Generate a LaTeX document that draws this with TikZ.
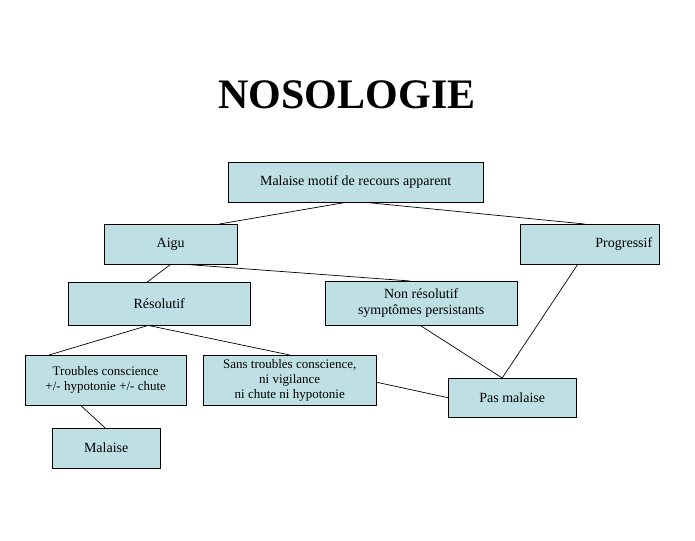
\documentclass[tikz,border=0pt]{standalone}
\usepackage{fontspec}
\setmainfont{Liberation Serif}
\begin{document}
\begin{tikzpicture}[x=1pt,y=-1pt,
  bx/.style={draw=black,fill=boxblue,inner sep=0pt,font=\fontsize{14}{16}\selectfont,align=center,anchor=north west},
  ln/.style={draw=black,line width=0.7pt}]
\definecolor{boxblue}{RGB}{190,224,228}
\useasboundingbox (0,0) rectangle (695,540);
\node[font=\bfseries\fontsize{42}{46}\selectfont] (title) at (347,95) {NOSOLOGIE};
\node[bx,minimum width=255,minimum height=40] (m) at (228,162) {Malaise motif de recours apparent};
\node[bx,minimum width=133,minimum height=40] (a) at (104,224) {Aigu};
\node[bx,minimum width=139,minimum height=40,align=right,text width=125] (p) at (520,224) {Progressif};
\node[bx,minimum width=182,minimum height=43] (r) at (68,282) {Résolutif};
\node[bx,minimum width=192,minimum height=44] (n) at (325,281) {Non résolutif\\symptômes persistants};
\node[bx,minimum width=161,minimum height=50,font=\fontsize{13}{15}\selectfont] (t) at (25,355) {Troubles conscience\\+/- hypotonie +/- chute};
\node[bx,minimum width=173,minimum height=50,font=\fontsize{13}{15}\selectfont] (s) at (203,355) {Sans troubles conscience,\\ni vigilance\\ni chute ni hypotonie};
\node[bx,minimum width=128,minimum height=39] (pm) at (448,378) {Pas malaise};
\node[bx,minimum width=108,minimum height=40] (ml) at (52,428) {Malaise};
\draw[ln] ([xshift=-10]m.south) -- ([xshift=-18]a.north east);
\draw[ln] ([xshift=10]m.south) -- ([xshift=-5]p.north);
\draw[ln] ([xshift=0]a.south) -- ([xshift=-12]r.north);
\draw[ln] ([xshift=15]a.south) -- ([xshift=-11]n.north);
\draw[ln] ([xshift=-11]r.south) -- ([xshift=24]t.north west);
\draw[ln] ([xshift=-11]r.south) -- ([xshift=0]s.north);
\draw[ln] ([xshift=-1]n.south) -- ([xshift=-10]pm.north);
\draw[ln] ([xshift=-12]p.south) -- ([xshift=-10]pm.north);
\draw[ln] ([yshift=-2]s.east) -- (pm.west);
\draw[ln] ([xshift=-25]t.south) -- ([xshift=-1]ml.north);
\end{tikzpicture}
\end{document}
